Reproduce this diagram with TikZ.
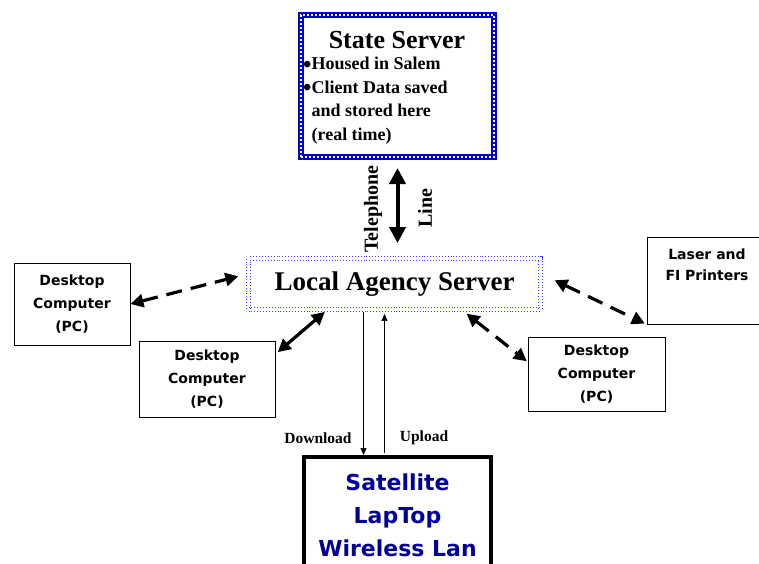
\documentclass[tikz,border=0pt]{standalone}
\usepackage{fontspec}
\setmainfont{Liberation Serif}
\newfontfamily\handfont{DejaVu Sans}
\usetikzlibrary{arrows.meta,calc}
\newcommand{\ssbul}{\raisebox{-2.5pt}{\fontsize{24}{20}\selectfont\textbullet}}
\tikzset{
  ssbox/.style={draw=blue!85!black, line width=6pt, minimum width=193pt, minimum height=142pt,
    postaction={draw=white, line width=1.6pt, dash pattern=on 2pt off 2pt}},
  lasbox/.style={draw=blue!75, dotted, line width=0.9pt, double=white, double distance=3.2pt,
    minimum width=292pt, minimum height=51pt, font=\bfseries\fontsize{27}{30}\selectfont},
  pctext/.style={align=center, font=\handfont\bfseries\fontsize{14}{23}\selectfont},
  pcbox/.style={pctext, draw, line width=0.8pt},
  satbox/.style={draw, line width=4pt, minimum width=187pt, minimum height=116pt, align=center,
    text=blue!60!black, font=\handfont\bfseries\fontsize{22}{33}\selectfont},
  link/.style={line width=3.2pt, {Triangle[length=13pt,width=13pt]}-{Triangle[length=13pt,width=13pt]}},
  dlink/.style={link, dash pattern=on 16pt off 9pt},
  thin/.style={line width=0.6pt, -{Triangle[length=7pt,width=6pt]}},
  lbl/.style={font=\bfseries\fontsize{20}{22}\selectfont}
}
\begin{document}
\begin{tikzpicture}[x=1pt,y=-1pt]
\useasboundingbox (0,0) rectangle (759,563);
% state server
\node[ssbox] (ss) at (397.5,86) {};
\node[font=\bfseries\fontsize{26}{30}\selectfont] (sstitle) at (397,40) {State Server};
\node[anchor=north west, align=left, inner sep=0pt, font=\bfseries\fontsize{18}{23.5}\selectfont] (ssinfo) at (303,57)
  {\ssbul Housed in Salem\\ \ssbul Client Data saved\\ \phantom{\ssbul}and stored here\\ \phantom{\ssbul}(real time)};
% local server
\node[lasbox] (las) at (394.5,284) {Local Agency Server};
\node[lbl, rotate=90] (tel) at (373,209) {Telephone};
\node[lbl, rotate=90] (line) at (425,208) {Line};
\draw[link, line width=4pt, {Triangle[length=16pt,width=16pt]}-{Triangle[length=16pt,width=16pt]},
  shorten <=8pt, shorten >=15pt] (ss.south) -- (ss.south |- las.north);
% computers
\node[pcbox, minimum width=116pt, minimum height=82pt] (lpc) at (72,304) {Desktop\\Computer\\(PC)};
\node[pcbox, minimum width=136pt, minimum height=76pt] (mpc) at (207,379) {Desktop\\Computer\\(PC)};
\node[pcbox, minimum width=137pt, minimum height=74pt] (rpc) at (596.5,374) {Desktop\\Computer\\(PC)};
\node[pcbox, minimum width=115pt, minimum height=87pt] (prn) at (704.5,280.5) {};
\node[pctext, font=\handfont\bfseries\fontsize{14}{21}\selectfont] (prntxt) at (707,265) {Laser and\\FI Printers};
\draw[dlink, shorten >=10pt] (lpc.east) -- (las.176);
\draw[link, shorten <=3pt, shorten >=3pt] (mpc.20) -- ($(las.south west)!0.27!(las.south east)$);
\draw[dlink, shorten <=6pt, shorten >=1pt] ($(las.south west)!0.73!(las.south east)$) -- (rpc.170);
\draw[dlink, shorten <=15pt, shorten >=2pt] (las.4) -- (prn.south west);
% laptop
\node[satbox] (sat) at (397.5,515) {Satellite\\LapTop\\Wireless Lan};
\draw[thin, shorten <=2pt] ([xshift=-31pt]las.south) -- ([xshift=-31pt]las.south |- sat.north);
\draw[thin, shorten <=2pt, shorten >=4pt] ([xshift=-13pt]sat.north) -- ([xshift=-13pt]sat.north |- las.south);
\node[font=\bfseries\fontsize{15.5}{18}\selectfont] (dl) at (318,438) {Download};
\node[font=\bfseries\fontsize{15.5}{18}\selectfont] (ul) at (424,438) {Upload};
\end{tikzpicture}
\end{document}
